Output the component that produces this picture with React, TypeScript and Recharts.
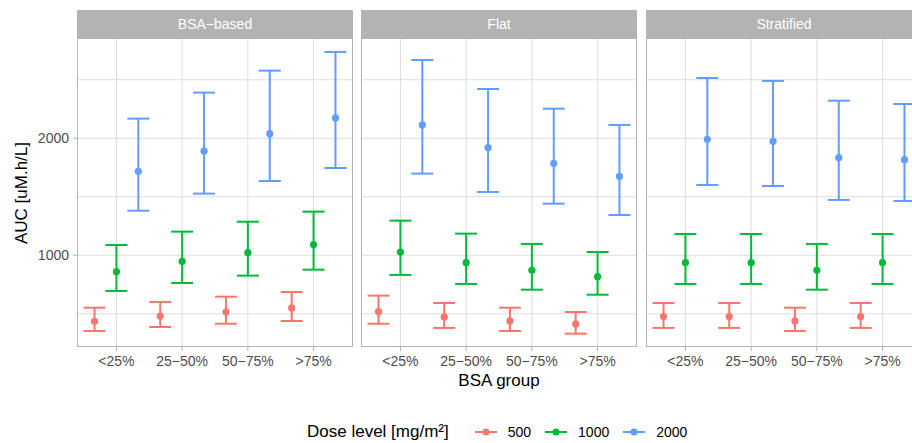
import React from "react";
import { ComposedChart, Scatter, ErrorBar, XAxis, YAxis, CartesianGrid } from "recharts";

// BSA quartile groups (x categories)
const groups = ["<25%", "25\u221250%", "50\u221275%", ">75%"];
const panels = ["BSA\u2212based", "Flat", "Stratified"];
const doses = ["500", "1000", "2000"];
const doseColors = ["#F8766D", "#00BA38", "#619CFF"];
const dodge = [-1 / 3, 0, 1 / 3];

const yTicks = [1000, 2000];
const yGrid = [500, 1000, 1500, 2000, 2500];

// rows: dose 500, 1000, 2000; columns: groups
const bsaMid = [
  [436, 481, 515, 550],
  [860, 949, 1022, 1091],
  [1718, 1891, 2039, 2174],
];
const bsaLow = [
  [353, 387, 415, 438],
  [695, 763, 826, 877],
  [1381, 1527, 1635, 1746],
];
const bsaHigh = [
  [552, 601, 646, 686],
  [1088, 1202, 1287, 1373],
  [2168, 2390, 2578, 2738],
];

const flatMid = [
  [518, 473, 439, 413],
  [1028, 937, 872, 817],
  [2114, 1920, 1786, 1675],
];
const flatLow = [
  [415, 379, 353, 330],
  [832, 755, 706, 663],
  [1698, 1541, 1441, 1344],
];
const flatHigh = [
  [655, 592, 552, 515],
  [1296, 1185, 1097, 1028],
  [2669, 2421, 2253, 2114],
];

const stratMid = [
  [476, 476, 439, 476],
  [937, 937, 872, 937],
  [1991, 1974, 1834, 1817],
];
const stratLow = [
  [379, 379, 353, 379],
  [755, 755, 706, 755],
  [1601, 1592, 1473, 1464],
];
const stratHigh = [
  [592, 592, 552, 592],
  [1182, 1182, 1097, 1182],
  [2515, 2490, 2321, 2293],
];

const panelValues = [
  { mid: bsaMid, low: bsaLow, high: bsaHigh },
  { mid: flatMid, low: flatLow, high: flatHigh },
  { mid: stratMid, low: stratLow, high: stratHigh },
];

const FONT = "'Liberation Sans', Arial, Helvetica, sans-serif";
const PANEL_W = 276;
const panelLefts = [77, 361, 646];
const PLOT_TOP = 38;
const PLOT_H = 309;
const Y_AXIS_W = 77;

function buildSeries(p: number, d: number) {
  const { mid, low, high } = panelValues[p];
  return groups.map((_, i) => ({
    x: i + dodge[d],
    y: mid[d][i],
    err: [mid[d][i] - low[d][i], high[d][i] - mid[d][i]],
  }));
}

function Panel({ p }: { p: number }) {
  const first = p === 0;
  const chartLeft = first ? 0 : panelLefts[p];
  const width = first ? Y_AXIS_W + PANEL_W : PANEL_W;
  return (
    <>
      <div style={{ position: "absolute", left: chartLeft, top: PLOT_TOP }}>
        <ComposedChart width={width} height={PLOT_H + 40} margin={{ top: 0, right: 0, bottom: 0, left: 0 }}>
          <CartesianGrid
            stroke="#dedede"
            strokeWidth={1}
            horizontalValues={yGrid}
            verticalValues={[0, 1, 2, 3]}
          />
          <XAxis
            type="number"
            dataKey="x"
            domain={[-0.6, 3.6]}
            ticks={[0, 1, 2, 3]}
            allowDataOverflow
            tickFormatter={(v: number) => groups[v] ?? ""}
            tick={{ fontSize: 14, fill: "#4d4d4d" }}
            tickLine={{ stroke: "#b3b3b3" }}
            axisLine={false}
            tickSize={4}
            tickMargin={5}
            height={40}
          />
          <YAxis
            type="number"
            dataKey="y"
            domain={[216, 2857]}
            ticks={yTicks}
            allowDataOverflow
            hide={!first}
            width={Y_AXIS_W}
            tick={{ fontSize: 14, fill: "#4d4d4d" }}
            tickLine={{ stroke: "#b3b3b3" }}
            axisLine={false}
            tickSize={4}
            tickMargin={4}
          />
          {doses.map((dose, d) => (
            <Scatter
              key={dose}
              name={dose}
              data={buildSeries(p, d)}
              fill={doseColors[d]}
              isAnimationActive={false}
              shape={(props: any) => <circle cx={props.cx} cy={props.cy} r={3.6} fill={doseColors[d]} />}
            >
              <ErrorBar dataKey="err" direction="y" width={11} stroke={doseColors[d]} strokeWidth={2} />
            </Scatter>
          ))}
        </ComposedChart>
      </div>
      {/* panel border + strip */}
      <div
        style={{
          position: "absolute",
          left: panelLefts[p],
          top: PLOT_TOP,
          width: PANEL_W,
          height: PLOT_H,
          boxSizing: "border-box",
          border: "1px solid #b3b3b3",
          pointerEvents: "none",
        }}
      />
      <div
        style={{
          position: "absolute",
          left: panelLefts[p],
          top: 9.5,
          width: PANEL_W,
          height: 28,
          background: "#b3b3b3",
          color: "#ffffff",
          fontSize: 14,
          lineHeight: "28px",
          textAlign: "center",
        }}
      >
        {panels[p]}
      </div>
    </>
  );
}

export default function App() {
  return (
    <div
      style={{
        position: "absolute",
        left: 0,
        top: 0,
        width: 912,
        height: 443,
        overflow: "hidden",
        background: "#ffffff",
        fontFamily: FONT,
      }}
    >
      {panels.map((_, p) => (
        <Panel key={p} p={p} />
      ))}
      <div
        style={{
          position: "absolute",
          left: 22,
          top: 193,
          transform: "translate(-50%, -50%) rotate(-90deg)",
          whiteSpace: "nowrap",
          fontSize: 17,
          color: "#000",
        }}
      >
        AUC [uM.h/L]
      </div>
      <div
        style={{
          position: "absolute",
          left: 499,
          top: 371,
          transform: "translateX(-50%)",
          whiteSpace: "nowrap",
          fontSize: 17,
          lineHeight: "20px",
          color: "#000",
        }}
      >
        BSA group
      </div>
      <div
        style={{
          position: "absolute",
          left: 307,
          top: 421,
          height: 22,
          display: "flex",
          alignItems: "center",
          whiteSpace: "nowrap",
        }}
      >
        <span style={{ fontSize: 17, color: "#000" }}>Dose level [mg/m²]</span>
        {doses.map((dose, d) => (
          <span key={dose} style={{ display: "flex", alignItems: "center", marginLeft: d === 0 ? 26 : 14 }}>
            <svg width={22} height={12}>
              <line x1={0} y1={6} x2={22} y2={6} stroke={doseColors[d]} strokeWidth={2} />
              <circle cx={11} cy={6} r={3.6} fill={doseColors[d]} />
            </svg>
            <span style={{ fontSize: 14, color: "#000", marginLeft: 11 }}>{dose}</span>
          </span>
        ))}
      </div>
    </div>
  );
}
